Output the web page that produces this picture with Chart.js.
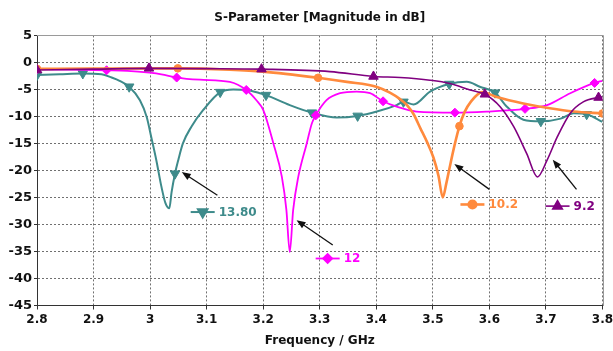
<!DOCTYPE html>
<html>
<head>
<meta charset="utf-8">
<title>S-Parameter</title>
<script src="https://cdn.jsdelivr.net/npm/chart.js@4.4.1/dist/chart.umd.min.js"></script>
<style>
  html, body { margin: 0; padding: 0; background: #fff; }
  canvas { display: block; }
</style>
</head>
<body>
<canvas id="sparam" width="613" height="351"></canvas>
<script>
// Axis ranges
const freqMin = 2.8, freqMax = 3.8, freqStep = 0.1;
const dbMin = -45, dbMax = 5, dbStep = 5;

// Series names (slot length variants)
const seriesNames = ['13.80', '12', '10.2', '9.2'];

// 13.80 curve
const freqA = [2.800, 2.840, 2.881, 2.914, 2.932, 2.946, 2.963, 2.982, 2.994, 3.002, 3.011, 3.020, 3.027, 3.034, 3.038, 3.044, 3.050, 3.058, 3.073, 3.094, 3.124, 3.147, 3.171, 3.194, 3.205, 3.247, 3.286, 3.330, 3.367, 3.401, 3.436, 3.448, 3.466, 3.495, 3.529, 3.560, 3.583, 3.610, 3.631, 3.660, 3.691, 3.726, 3.749, 3.772, 3.800];
const dbA   = [-2.35, -2.2, -2.05, -2.2, -2.8, -3.4, -4.5, -7.0, -10.1, -13.8, -18.1, -23.0, -26.0, -27.0, -24.0, -20.6, -18.0, -15.0, -11.9, -8.8, -5.5, -5.0, -5.1, -5.7, -6.05, -7.9, -9.3, -10.2, -9.9, -9.1, -7.9, -7.3, -7.8, -5.4, -4.0, -3.6, -4.5, -5.6, -8.2, -10.6, -10.9, -10.4, -9.4, -9.6, -11.0];
const markFreqA = [2.800, 2.881, 2.963, 3.044, 3.124, 3.205, 3.286, 3.367, 3.448, 3.529, 3.610, 3.691, 3.772];
const markDbA   = [-2.35, -2.05, -4.5, -20.6, -5.5, -6.05, -9.3, -9.9, -7.3, -4.0, -5.6, -10.9, -9.6];

// 12 curve
const freqB = [2.800, 2.858, 2.923, 2.960, 2.999, 3.020, 3.047, 3.088, 3.141, 3.170, 3.188, 3.200, 3.218, 3.233, 3.241, 3.247, 3.253, 3.262, 3.277, 3.286, 3.293, 3.312, 3.336, 3.365, 3.389, 3.412, 3.436, 3.471, 3.539, 3.595, 3.663, 3.702, 3.743, 3.786, 3.800];
const dbB   = [-1.25, -1.35, -1.45, -1.55, -1.9, -2.2, -2.8, -3.2, -3.6, -5.1, -7.0, -8.8, -15.0, -21.2, -27.3, -35.1, -27.3, -21.2, -15.0, -11.3, -9.8, -7.0, -5.7, -5.4, -5.7, -7.2, -8.2, -9.1, -9.3, -9.1, -8.6, -7.9, -5.7, -3.8, -3.4];
const markFreqB = [2.800, 2.923, 3.047, 3.170, 3.293, 3.412, 3.539, 3.663, 3.786];
const markDbB   = [-1.25, -1.45, -2.8, -5.1, -9.8, -7.2, -9.3, -8.6, -3.8];

// 10.2 curve
const freqC = [2.800, 2.900, 3.049, 3.141, 3.200, 3.297, 3.348, 3.400, 3.424, 3.442, 3.455, 3.466, 3.478, 3.490, 3.501, 3.510, 3.5175, 3.524, 3.530, 3.538, 3.547, 3.556, 3.567, 3.587, 3.613, 3.660, 3.707, 3.749, 3.800];
const dbC   = [-1.2, -1.15, -1.1, -1.35, -1.7, -2.85, -3.6, -4.5, -5.6, -6.8, -8.0, -9.6, -12.2, -14.8, -17.6, -21.0, -25.0, -22.3, -19.3, -15.5, -11.8, -9.2, -7.3, -5.5, -6.4, -7.6, -8.5, -9.1, -9.45];
const markFreqC = [2.800, 3.049, 3.297, 3.547, 3.800];
const markDbC   = [-1.2, -1.1, -2.85, -11.8, -9.45];

// 9.2 curve
const freqD = [2.800, 2.900, 2.998, 3.100, 3.197, 3.318, 3.395, 3.442, 3.495, 3.530, 3.566, 3.592, 3.619, 3.643, 3.666, 3.685, 3.702, 3.720, 3.743, 3.766, 3.793, 3.800];
const dbD   = [-1.4, -1.25, -1.1, -1.15, -1.25, -1.7, -2.6, -2.8, -3.3, -3.9, -5.1, -5.9, -8.2, -11.9, -16.9, -21.2, -18.1, -13.8, -9.4, -7.3, -6.5, -6.4];
const markFreqD = [2.800, 2.998, 3.197, 3.395, 3.592, 3.793];
const markDbD   = [-1.4, -1.1, -1.25, -2.6, -5.9, -6.5];

const colors = ['#3E8B8B', '#FF00FF', '#FF8A3D', '#800080'];
const markerStyles = [
  { pointStyle: 'triangle', rotation: 180, radius: 5.5 },
  { pointStyle: 'rectRot', rotation: 0, radius: 4.5 },
  { pointStyle: 'circle', rotation: 0, radius: 3.8 },
  { pointStyle: 'triangle', rotation: 0, radius: 5.5 }
];
const lineWidths = [2, 1.8, 2.6, 1.6];

// Arrow callouts: arrow tip / tail and label anchor in data units
const callouts = [
  { tip: [3.056, -20.3], tail: [3.119, -24.6], at: [3.093, -27.7] },
  { tip: [3.259, -29.2], tail: [3.323, -33.8], at: [3.314, -36.3] },
  { tip: [3.538, -18.8], tail: [3.600, -23.5], at: [3.570, -26.3] },
  { tip: [3.712, -18.0], tail: [3.754, -23.5], at: [3.7205, -26.6] }
];

const toPoints = (xs, ys) => xs.map((x, i) => ({ x: x, y: ys[i] }));

const curves = [[freqA, dbA], [freqB, dbB], [freqC, dbC], [freqD, dbD]];
const marks = [[markFreqA, markDbA], [markFreqB, markDbB], [markFreqC, markDbC], [markFreqD, markDbD]];

// draw order: purple on top, then orange, pink, teal
const drawOrder = [4, 3, 2, 1];

const datasets = [];
curves.forEach((c, i) => {
  datasets.push({
    label: seriesNames[i],
    data: toPoints(c[0], c[1]),
    borderColor: colors[i],
    borderWidth: lineWidths[i],
    pointRadius: 0,
    cubicInterpolationMode: 'monotone',
    fill: false,
    order: drawOrder[i] * 2
  });
  datasets.push({
    label: seriesNames[i] + ' markers',
    data: toPoints(marks[i][0], marks[i][1]),
    showLine: false,
    pointStyle: markerStyles[i].pointStyle,
    rotation: markerStyles[i].rotation,
    pointRadius: markerStyles[i].radius,
    backgroundColor: colors[i],
    borderColor: colors[i],
    borderWidth: 1,
    order: drawOrder[i] * 2 - 1
  });
});

const fmt = v => String(Math.round(v * 10) / 10);

const framePlugin = {
  id: 'frame',
  beforeDatasetsDraw(chart) {
    const { ctx, chartArea } = chart;
    ctx.save();
    ctx.strokeStyle = '#9a9a9a';
    ctx.lineWidth = 1;
    ctx.beginPath();
    ctx.moveTo(Math.round(chartArea.left), Math.round(chartArea.top) + 0.5);
    ctx.lineTo(Math.round(chartArea.right) + 0.5, Math.round(chartArea.top) + 0.5);
    ctx.lineTo(Math.round(chartArea.right) + 0.5, Math.round(chartArea.bottom));
    ctx.stroke();
    ctx.restore();
  }
};

const calloutPlugin = {
  id: 'callouts',
  afterDatasetsDraw(chart) {
    const { ctx } = chart;
    const xs = chart.scales.x, ys = chart.scales.y;
    ctx.save();
    callouts.forEach((c, i) => {
      const tx = xs.getPixelForValue(c.tip[0]), ty = ys.getPixelForValue(c.tip[1]);
      const bx = xs.getPixelForValue(c.tail[0]), by = ys.getPixelForValue(c.tail[1]);
      const ang = Math.atan2(ty - by, tx - bx);
      const head = 9, half = 3.5;
      // arrow shaft
      ctx.strokeStyle = '#111';
      ctx.fillStyle = '#111';
      ctx.lineWidth = 1.3;
      ctx.beginPath();
      ctx.moveTo(bx, by);
      ctx.lineTo(tx - Math.cos(ang) * head * 0.8, ty - Math.sin(ang) * head * 0.8);
      ctx.stroke();
      // arrow head
      ctx.beginPath();
      ctx.moveTo(tx, ty);
      ctx.lineTo(tx - Math.cos(ang) * head - Math.sin(ang) * half, ty - Math.sin(ang) * head + Math.cos(ang) * half);
      ctx.lineTo(tx - Math.cos(ang) * head + Math.sin(ang) * half, ty - Math.sin(ang) * head - Math.cos(ang) * half);
      ctx.closePath();
      ctx.fill();

      // legend-style label: line + marker + value
      const lx = xs.getPixelForValue(c.at[0]), ly = ys.getPixelForValue(c.at[1]);
      ctx.strokeStyle = colors[i];
      ctx.lineWidth = lineWidths[i];
      ctx.beginPath();
      ctx.moveTo(lx - 12, ly);
      ctx.lineTo(lx + 12, ly);
      ctx.stroke();
      ctx.fillStyle = colors[i];
      Chart.helpers.drawPoint(ctx, {
        pointStyle: markerStyles[i].pointStyle,
        rotation: markerStyles[i].rotation,
        radius: markerStyles[i].radius,
        borderWidth: 1
      }, lx, ly);
      ctx.font = 'bold 12px "DejaVu Sans"';
      ctx.textBaseline = 'middle';
      ctx.textAlign = 'left';
      ctx.fillText(seriesNames[i], lx + 16, ly + 0.5);
    });
    ctx.restore();
  }
};

new Chart(document.getElementById('sparam'), {
  type: 'line',
  data: { datasets: datasets },
  plugins: [framePlugin, calloutPlugin],
  options: {
    responsive: false,
    animation: false,
    devicePixelRatio: 1,
    layout: { padding: { left: 0, right: 10.5, top: 0, bottom: 0 } },
    plugins: {
      legend: { display: false },
      tooltip: { enabled: false },
      title: {
        display: true,
        text: 'S-Parameter [Magnitude in dB]',
        fullSize: false,
        color: '#111',
        font: { family: 'DejaVu Sans', size: 12, weight: 'bold' },
        padding: { top: 11, bottom: 10 }
      }
    },
    scales: {
      x: {
        type: 'linear',
        min: freqMin,
        max: freqMax,
        afterFit: scale => {
          scale.height = 45.5;
          scale.paddingLeft = 0;
          scale.paddingRight = 0;
        },
        ticks: {
          stepSize: freqStep,
          color: '#111',
          padding: 3,
          font: { family: 'DejaVu Sans', size: 12, weight: 'bold' },
          callback: v => fmt(v)
        },
        grid: { color: '#707070', lineWidth: 1, tickLength: 4, tickColor: '#333' },
        border: { display: true, color: '#333', width: 1, dash: [2, 2] },
        title: {
          display: true,
          text: 'Frequency / GHz',
          color: '#111',
          font: { family: 'DejaVu Sans', size: 12, weight: 'bold' },
          padding: { top: 4, bottom: 3 }
        }
      },
      y: {
        min: dbMin,
        max: dbMax,
        afterFit: scale => { scale.width = 37; },
        ticks: {
          stepSize: dbStep,
          color: '#111',
          padding: 2,
          font: { family: 'DejaVu Sans', size: 13, weight: 'bold' },
          callback: v => fmt(v)
        },
        grid: { color: '#707070', lineWidth: 1, tickLength: 3, tickColor: '#333' },
        border: { display: true, color: '#333', width: 1, dash: [2, 2] }
      }
    }
  }
});
</script>
</body>
</html>
